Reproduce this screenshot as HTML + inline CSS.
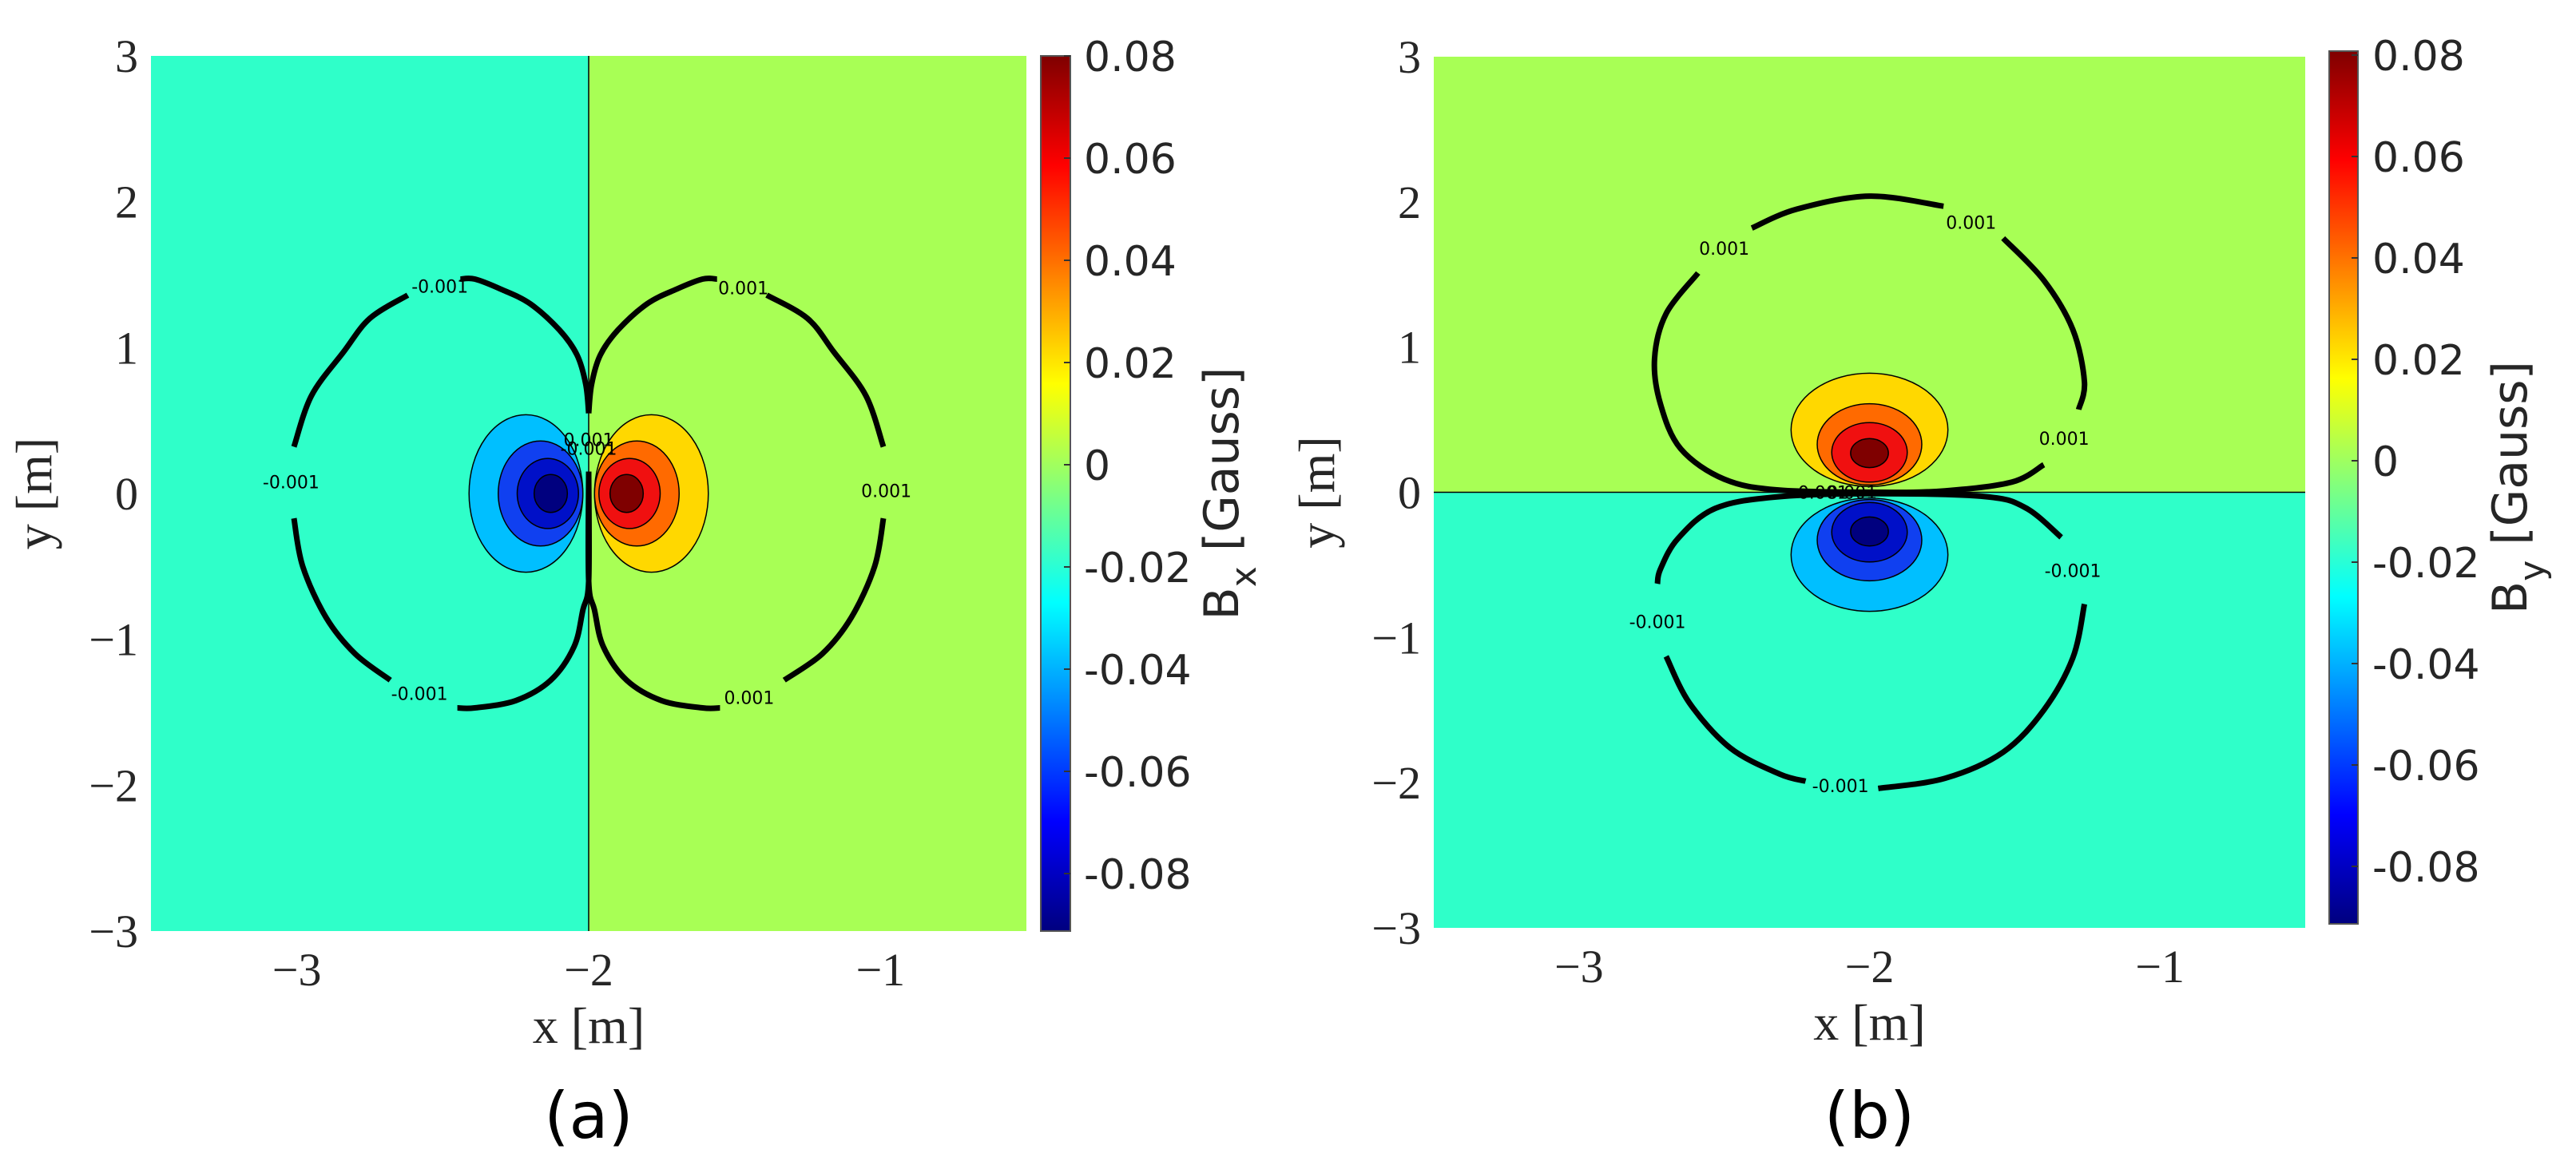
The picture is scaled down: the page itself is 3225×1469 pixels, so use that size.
<!DOCTYPE html>
<html><head><meta charset="utf-8"><style>
html,body{margin:0;padding:0;background:#fff;}
svg{display:block;}
.tk{font-family:"Liberation Serif",serif;font-size:58px;fill:#262626;}
.cb{font-family:"DejaVu Sans","Liberation Sans",sans-serif;font-size:52px;fill:#262626;}
.cl{font-family:"DejaVu Sans","Liberation Sans",sans-serif;font-size:22px;fill:#000;}
.ttl{font-family:"Liberation Serif",serif;font-size:64px;fill:#262626;}
.pl{font-family:"DejaVu Sans","Liberation Sans",sans-serif;font-size:80px;fill:#000;}
</style></head><body>
<svg id="fig" width="3225" height="1469" viewBox="0 0 3225 1469" xmlns="http://www.w3.org/2000/svg">
<defs>
<linearGradient id="jet" x1="0" y1="1" x2="0" y2="0">
<stop offset="0" stop-color="#00007f"/><stop offset="0.125" stop-color="#0000ff"/>
<stop offset="0.375" stop-color="#00ffff"/><stop offset="0.625" stop-color="#ffff00"/>
<stop offset="0.875" stop-color="#ff0000"/><stop offset="1" stop-color="#7f0000"/>
</linearGradient>
</defs>
</svg>
<script>
// axis ranges & ticks
const xTicks = [-3, -2, -1];
const yTicks = [-3, -2, -1, 0, 1, 2, 3];
const cbTicks = [0.08, 0.06, 0.04, 0.02, 0, -0.02, -0.04, -0.06, -0.08];
const cbTickLabels = ["0.08","0.06","0.04","0.02","0","-0.02","-0.04","-0.06","-0.08"];
const levelColors = ["#00bfff", "#1040f0", "#0010c8", "#00007f", "#ffd800", "#ff6a00", "#f01010", "#7f0000"];
// Panel (a) blobs: [cx, cy, rx, ry] data units
const blobsA_neg = [[-2.215,0,0.195,0.54],[-2.165,0,0.145,0.36],[-2.14,0,0.105,0.24],[-2.13,0,0.057,0.13]];
const blobsA_pos = [[-1.785,0,0.195,0.54],[-1.835,0,0.145,0.36],[-1.86,0,0.105,0.24],[-1.87,0,0.057,0.13]];
// Panel (b) blobs
const blobsB_pos = [[-2,0.43,0.27,0.39],[-2,0.33,0.18,0.28],[-2,0.275,0.13,0.205],[-2,0.27,0.065,0.1]];
const blobsB_neg = [[-2,-0.43,0.27,0.39],[-2,-0.33,0.18,0.28],[-2,-0.275,0.13,0.205],[-2,-0.27,0.065,0.1]];
// Panel (a) contour segments
const contA_seg1 = [[-2.0,0.55],[-2.01,0.75],[-2.04,0.95],[-2.1,1.12],[-2.2,1.3],[-2.3,1.4],[-2.39,1.47],[-2.44,1.47]];
const contA_seg2 = [[-2.62,1.36],[-2.75,1.2],[-2.84,0.97],[-2.95,0.67],[-3.01,0.32]];
const contA_seg3 = [[-3.01,-0.17],[-2.98,-0.5],[-2.9,-0.85],[-2.8,-1.1],[-2.68,-1.28]];
const contA_seg4 = [[-2.45,-1.47],[-2.39,-1.47],[-2.25,-1.42],[-2.13,-1.28],[-2.05,-1.05],[-2.02,-0.8],[-2.0,-0.6],[-2.0,0.15]];
const contA_right = [[-2.0,0.55],[-1.99,0.75],[-1.96,0.95],[-1.9,1.12],[-1.8,1.3],[-1.7,1.4],[-1.61,1.47],[-1.56,1.47]];
const contA_right2 = [[-1.39,1.36],[-1.25,1.2],[-1.16,0.97],[-1.05,0.67],[-0.99,0.32]];
const contA_right3 = [[-0.99,-0.17],[-1.02,-0.5],[-1.1,-0.85],[-1.2,-1.1],[-1.33,-1.28]];
const contA_right4 = [[-1.55,-1.47],[-1.61,-1.47],[-1.75,-1.42],[-1.87,-1.28],[-1.95,-1.05],[-1.98,-0.8],[-2.0,-0.6],[-2.0,0.15]];
const labelsA = [["-0.001",-2.51,1.42],["0.001",-1.47,1.41],["-0.001",-3.02,0.08],["0.001",-0.98,0.02],["-0.001",-2.58,-1.37],["0.001",-1.45,-1.4],["0.001",-2.0,0.37],["-0.001",-2.0,0.31]];
// Panel (b) contour segments
const contB_A = [[-2.405,1.82],[-2.25,1.95],[-2.0,2.04],[-1.745,1.97]];
const contB_B = [[-1.54,1.75],[-1.4,1.46],[-1.3,1.12],[-1.26,0.76],[-1.28,0.57]];
const contB_C = [[-1.4,0.19],[-1.51,0.07],[-1.74,0.01],[-1.97,0],[-2.31,0.015],[-2.5,0.09],[-2.65,0.3],[-2.72,0.61],[-2.74,0.92],[-2.7,1.23],[-2.59,1.51]];
const contB_D = [[-1.34,-0.31],[-1.46,-0.11],[-1.6,-0.03],[-1.97,-0.01],[-2.31,-0.03],[-2.53,-0.11],[-2.66,-0.32],[-2.72,-0.53],[-2.73,-0.63]];
const contB_E = [[-2.7,-1.13],[-2.62,-1.45],[-2.48,-1.76],[-2.31,-1.94],[-2.22,-1.99]];
const contB_F = [[-1.97,-2.04],[-1.74,-1.97],[-1.54,-1.79],[-1.4,-1.5],[-1.3,-1.14],[-1.26,-0.77]];
const labelsB = [["0.001",-2.5,1.68],["0.001",-1.65,1.86],["0.001",-1.33,0.37],["-0.001",-1.3,-0.54],["-0.001",-2.73,-0.89],["-0.001",-2.1,-2.02],["0.001",-2.16,0.0],["0.001",-2.06,0.0]];

const svg = document.getElementById('fig');
const NS = "http://www.w3.org/2000/svg";
function mk(tag, attrs, parent){ const e=document.createElementNS(NS,tag); for(const k in attrs) e.setAttribute(k,attrs[k]); (parent||svg).appendChild(e); return e; }
function smoothPath(pts){
  let d = 'M'+pts[0][0].toFixed(1)+','+pts[0][1].toFixed(1);
  for(let i=0;i<pts.length-1;i++){
    const p0 = pts[Math.max(0,i-1)], p1=pts[i], p2=pts[i+1], p3=pts[Math.min(pts.length-1,i+2)];
    const c1x = p1[0]+(p2[0]-p0[0])/6, c1y = p1[1]+(p2[1]-p0[1])/6;
    const c2x = p2[0]-(p3[0]-p1[0])/6, c2y = p2[1]-(p3[1]-p1[1])/6;
    d += 'C'+c1x.toFixed(1)+','+c1y.toFixed(1)+' '+c2x.toFixed(1)+','+c2y.toFixed(1)+' '+p2[0].toFixed(1)+','+p2[1].toFixed(1);
  }
  return d;
}

function panel(P){
  const g = mk('g',{});
  
  
  const sx = v => P.x0 + (v - (-3.5)) / 3 * (P.x1 - P.x0);
  const sy = v => P.y1 - (v - (-3)) / 6 * (P.y1 - P.y0);
  const clipId = P.name + '-clip';
  const cp = mk('clipPath',{id:clipId},g); mk('rect',{x:P.x0,y:P.y0,width:P.x1-P.x0,height:P.y1-P.y0},cp);
  const plot = mk('g',{'clip-path':'url(#'+clipId+')'},g);
  
  
  if(P.split==='x'){
    const bl = mk('rect',{x:P.x0,y:P.y0,width:sx(-2)-P.x0,height:P.y1-P.y0,fill:'#2fffc9'},plot);
    
    
    const br = mk('rect',{x:sx(-2),y:P.y0,width:P.x1-sx(-2),height:P.y1-P.y0,fill:'#a8ff55'},plot);
    
    
  } else {
    const bt = mk('rect',{x:P.x0,y:P.y0,width:P.x1-P.x0,height:sy(0)-P.y0,fill:'#a8ff55'},plot);
    
    
    const bb = mk('rect',{x:P.x0,y:sy(0),width:P.x1-P.x0,height:P.y1-sy(0),fill:'#2fffc9'},plot);
    
    
  }
  const drawBlobs = (arr, off) => arr.forEach((b,i)=>{
    const e = mk('ellipse',{cx:sx(b[0]),cy:sy(b[1]),rx:b[2]/3*(P.x1-P.x0),ry:b[3]/6*(P.y1-P.y0),fill:levelColors[off+i],stroke:'#000','stroke-width':1.5},plot);
    
    
  });
  drawBlobs(P.neg,0); drawBlobs(P.pos,4);
  if(P.split==='x'){ const z=mk('line',{x1:sx(-2),x2:sx(-2),y1:P.y0,y2:P.y1,stroke:'#000','stroke-width':1.5},plot);   }
  else { const z=mk('line',{x1:P.x0,x2:P.x1,y1:sy(0),y2:sy(0),stroke:'#000','stroke-width':1.5},plot);   }
  P.segs.forEach(s=>{
    const pts = s.map(p=>[sx(p[0]), sy(p[1])]);
    const pth = mk('path',{d:smoothPath(pts),fill:'none',stroke:'#000','stroke-width':7,'stroke-linejoin':'round'},plot);
    
    
  });
  P.labels.forEach(l=>{
    const t = mk('text',{x:sx(l[1]),y:sy(l[2])+8,'text-anchor':'middle',class:'cl'},plot);
    t.textContent = l[0];
    
    
  });
  xTicks.forEach(v=>{
    const t = mk('text',{x:sx(v),y:P.y1+68,'text-anchor':'middle',class:'tk'},g);
    t.textContent = '\u2212'+Math.abs(v);
    
    
  });
  yTicks.forEach(v=>{
    const t = mk('text',{x:P.x0-16,y:sy(v)+20,'text-anchor':'end',class:'tk'},g);
    t.textContent = (v<0?'\u2212':'')+Math.abs(v);
    
    
  });
  const xt = mk('text',{x:(P.x0+P.x1)/2,y:P.y1+140,'text-anchor':'middle',class:'ttl'},g);
  xt.textContent='x [m]';
  
  
  const ycx = P.x0-125, ycy=(P.y0+P.y1)/2;
  const yt = mk('text',{x:ycx,y:ycy,'text-anchor':'middle',class:'ttl',transform:'rotate(-90 '+ycx+' '+ycy+')'},g);
  yt.textContent='y [m]';
  
  
  const cbs = v => P.cbZero - v/0.02*P.cbStep;
  const cbr = mk('rect',{x:P.cbx,y:P.cby0,width:P.cbw,height:P.cby1-P.cby0,fill:'url(#jet)',stroke:'#555','stroke-width':2},g);
  
  
  cbTicks.forEach((v,i)=>{
    mk('line',{x1:P.cbx+P.cbw-8,x2:P.cbx+P.cbw,y1:cbs(v),y2:cbs(v),stroke:'#333','stroke-width':2},g);
    const t = mk('text',{x:P.cbx+54,y:cbs(v)+19,class:'cb'},g);
    t.textContent = cbTickLabels[i];
    
    
  });
  const tx = P.cbx+247, ty = (P.cby0+P.cby1)/2;
  const ct = mk('text',{x:tx,y:ty,'text-anchor':'middle',class:'cb',style:'font-size:60px',transform:'rotate(-90 '+tx+' '+ty+')'},g);
  ct.innerHTML = 'B<tspan dy="22" style="font-size:44px">'+P.sub+'</tspan><tspan dy="-22"> [Gauss]</tspan>';
  
  
  const pl = mk('text',{x:(P.x0+P.x1)/2,y:1425,'text-anchor':'middle',class:'pl'},g);
  pl.textContent = P.label;
  
  
}

panel({name:'panel-a',x0:189,x1:1285,y0:70,y1:1166,split:'x',neg:blobsA_neg,pos:blobsA_pos,
  segs:[contA_seg1,contA_seg2,contA_seg3,contA_seg4,contA_right,contA_right2,contA_right3,contA_right4],
  labels:labelsA,cbx:1303,cbw:37,cby0:70,cby1:1166,cbZero:582,cbStep:128,sub:'x',label:'(a)'});
panel({name:'panel-b',x0:1795,x1:2886,y0:71,y1:1162,split:'y',neg:blobsB_neg,pos:blobsB_pos,
  segs:[contB_A,contB_B,contB_C,contB_D,contB_E,contB_F],
  labels:labelsB,cbx:2916,cbw:36,cby0:64,cby1:1157,cbZero:577,cbStep:127,sub:'y',label:'(b)'});
</script>
</body></html>
